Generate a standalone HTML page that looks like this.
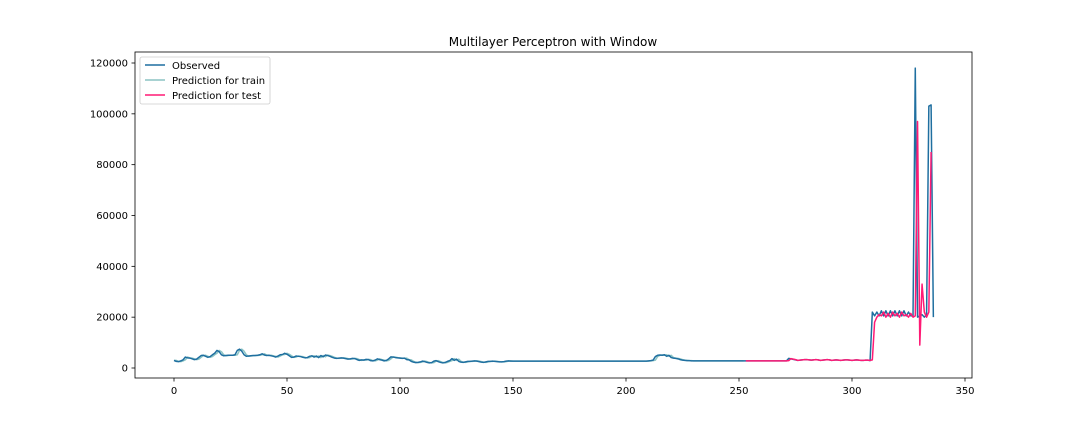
<!DOCTYPE html>
<html><head><meta charset="utf-8"><style>
body{margin:0;background:#fff;font-family:"Liberation Sans","DejaVu Sans",sans-serif;}
svg text{font-family:"DejaVu Sans","Liberation Sans",sans-serif;font-size:10px;fill:#000;}
</style></head><body>
<svg id="chart" width="1080" height="432" viewBox="0 0 1080 432" xmlns="http://www.w3.org/2000/svg">
<rect width="1080" height="432" fill="#fff"/>
<text x="553" y="46" text-anchor="middle" style="font-size:12px">Multilayer Perceptron with Window</text>
<g id="plot"></g>
<rect x="135" y="52" width="837" height="326" fill="none" stroke="#000" stroke-width="0.8"/>
<g id="xaxis"></g>
<g id="yaxis"></g>
<g>
<rect x="140" y="57" width="130" height="47" rx="2" fill="#fff" fill-opacity="0.8" stroke="#ccc" stroke-width="0.8"/>
<line x1="145" y1="65" x2="165" y2="65" stroke="#1f6fa0" stroke-width="1.5"/>
<text x="172" y="69">Observed</text>
<line x1="145" y1="80" x2="165" y2="80" stroke="#8cc4c4" stroke-width="1.5"/>
<text x="172" y="84">Prediction for train</text>
<line x1="145" y1="95" x2="165" y2="95" stroke="#ff1a75" stroke-width="1.5"/>
<text x="172" y="99">Prediction for test</text>
</g>
</svg>
<script>
const xTicks=[0,50,100,150,200,250,300,350];
const yTicks=[0,20000,40000,60000,80000,100000,120000];
const observed=[3000,2600,2500,2800,3200,4300,4000,3900,3600,3300,
3500,4200,4900,5000,4600,4200,4500,5200,5800,6900,
6400,5200,4800,4900,5000,5000,5000,5200,6900,7400,
6600,5200,4600,4700,4800,4900,4900,5000,5200,5600,
5100,4900,5000,4800,4600,4300,4700,5200,5300,5800,
5400,4800,4200,4300,4700,4600,4500,4200,4000,4100,
4600,4800,4300,4700,4100,4900,4400,5100,4900,4600,
4200,3900,3800,3900,4000,3900,3700,3500,3600,3800,
3700,3300,3000,3200,3100,3400,3300,2900,2800,3100,
3600,3300,3100,2800,3000,3600,4400,4300,4100,4000,
3900,3800,3900,3300,3200,2600,2300,2100,2200,2400,
2700,2500,2200,2000,2100,2700,2900,2500,2200,2000,
2200,2600,2900,3700,3000,3500,2600,2300,2200,2400,
2600,2600,2700,2800,2700,2500,2300,2200,2400,2600,
2600,2700,2600,2500,2400,2400,2500,2700,2800,2700,
2700,2700,2700,2700,2700,2700,2700,2700,2700,2700,
2700,2700,2700,2700,2700,2700,2700,2700,2700,2700,
2700,2700,2700,2700,2700,2700,2700,2700,2700,2700,
2700,2700,2700,2700,2700,2700,2700,2700,2700,2700,
2700,2700,2700,2700,2700,2700,2700,2700,2700,2700,
2700,2700,2700,2700,2700,2700,2700,2700,2700,2700,
2800,2900,3100,4500,5000,5100,5000,5200,4600,5000,
4100,3900,3800,3600,3300,3100,3000,2900,2900,2800,
2800,2800,2800,2800,2800,2800,2800,2800,2800,2800,
2800,2800,2800,2800,2800,2800,2800,2800,2800,2800,
2800,2800,2800,2800,2800,2800,2800,2800,2800,2800,
2800,2800,2800,2800,2800,2800,2800,2800,2800,2800,
2800,2800,3800,3600,3400,3200,3000,3100,3200,3300,
3300,3200,3100,3200,3300,3200,3000,3100,3200,3300,
3200,3000,3100,3200,3100,3000,3100,3200,3200,3100,
3000,3100,3200,3100,3000,3000,3100,3100,2900,22000,
20500,22000,20500,22500,20500,22500,20500,22500,20500,22500,
20500,22500,20500,22500,20500,22000,20500,20500,118000,20000,
20500,21000,20000,21000,103000,103500,20000];
const predTrain=[3000,3000,2600,2500,2800,3200,4300,4000,3900,3600,
3300,3500,4200,4900,5000,4600,4200,4500,5200,5800,
6900,6400,5200,4800,4900,5000,5000,5000,5200,6900,
7400,6600,5200,4600,4700,4800,4900,4900,5000,5200,
5600,5100,4900,5000,4800,4600,4300,4700,5200,5300,
5800,5400,4800,4200,4300,4700,4600,4500,4200,4000,
4100,4600,4800,4300,4700,4100,4900,4400,5100,4900,
4600,4200,3900,3800,3900,4000,3900,3700,3500,3600,
3800,3700,3300,3000,3200,3100,3400,3300,2900,2800,
3100,3600,3300,3100,2800,3000,3600,4400,4300,4100,
4000,3900,3800,3900,3300,3200,2600,2300,2100,2200,
2400,2700,2500,2200,2000,2100,2700,2900,2500,2200,
2000,2200,2600,2900,3700,3000,3500,2600,2300,2200,
2400,2600,2600,2700,2800,2700,2500,2300,2200,2400,
2600,2600,2700,2600,2500,2400,2400,2500,2700,2800,
2700,2700,2700,2700,2700,2700,2700,2700,2700,2700,
2700,2700,2700,2700,2700,2700,2700,2700,2700,2700,
2700,2700,2700,2700,2700,2700,2700,2700,2700,2700,
2700,2700,2700,2700,2700,2700,2700,2700,2700,2700,
2700,2700,2700,2700,2700,2700,2700,2700,2700,2700,
2700,2700,2700,2700,2700,2700,2700,2700,2700,2700,
2700,2800,2900,3100,4500,5000,5100,5000,5200,4600,
5000,4100,3900,3800,3600,3300,3100,3000,2900,2900,
2800,2800,2800,2800,2800,2800,2800,2800,2800,2800,
2800,2800,2800,2800,2800,2800,2800,2800,2800,2800,
2800,2800,2800];
const testStart=253;
const predTest=[2800,2800,2800,2800,2800,2800,2800,2800,2800,2800,
2800,2800,2800,2800,2800,2800,2800,2800,2800,
2900,3700,3500,3300,
3000,3100,3200,3300,3300,3200,3100,3200,3300,3200,3000,3100,3200,3300,3200,3000,
3100,3200,3100,3000,3100,3200,3200,3100,3000,3100,3200,3100,3000,3000,3100,3100,
3000,3200,18000,20000,21000,20500,22000,20000,21500,20000,22000,20500,21500,20000,
22000,20500,21000,20000,21500,20000,20500,97000,9000,33000,22000,20000,22000,85000];

const NS="http://www.w3.org/2000/svg";
const X=v=>174+v*(791/350);
const Y=v=>368-v*(305/120000);
function mk(tag,attrs,parent){const e=document.createElementNS(NS,tag);for(const k in attrs)e.setAttribute(k,attrs[k]);parent.appendChild(e);return e;}
const xa=document.getElementById('xaxis'),ya=document.getElementById('yaxis'),plot=document.getElementById('plot');
xTicks.forEach(t=>{
  const l=mk('line',{x1:X(t),x2:X(t),y1:378,y2:381.5,stroke:'#000','stroke-width':0.8},xa);
  
  
  const tx=mk('text',{x:X(t),y:394,'text-anchor':'middle'},xa);tx.textContent=t;
  
  
});
yTicks.forEach(t=>{
  const l=mk('line',{x1:131.5,x2:135,y1:Y(t),y2:Y(t),stroke:'#000','stroke-width':0.8},ya);
  
  
  const tx=mk('text',{x:128,y:Y(t)+3.5,'text-anchor':'end'},ya);tx.textContent=t;
  
  
});
function line(arr,start,color,name){
  const d=arr.map((v,i)=>(i?'L':'M')+X(start+i).toFixed(2)+','+Y(v).toFixed(2)).join('');
  const p=mk('path',{d:d,fill:'none',stroke:color,'stroke-width':1.5,'stroke-linejoin':'round'},plot);
  
  
}
line(predTrain,0,'#8cc4c4','train-prediction-line');
line(observed,0,'#1f6fa0','observed-line');
line(predTest,testStart,'#ff1a75','test-prediction-line');
</script>
</body></html>
